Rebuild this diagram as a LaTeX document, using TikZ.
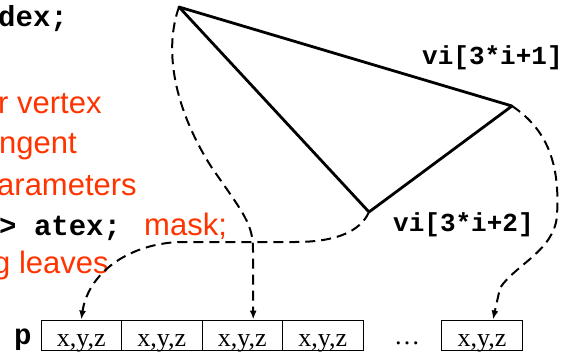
\documentclass[tikz,border=0pt]{standalone}
\usepackage{fontspec}
\setmainfont{Liberation Serif}
\setsansfont{Liberation Sans}
\setmonofont{Liberation Mono}
\usepackage{xcolor}
\usepackage{tikz}
\usetikzlibrary{calc,arrows.meta,positioning}
\definecolor{redc}{HTML}{FF3300}
\tikzset{
  ar/.style={-{Latex[length=9pt,width=7pt]},line width=2pt,dash pattern=on 10pt off 6pt},
  edg/.style={line width=2.8pt,line join=round},
  cell/.style={draw,line width=0.9pt,minimum width=80.5pt,minimum height=30pt,inner sep=0pt,text height=23pt,text depth=0pt,font=\fontsize{26}{26}\selectfont},
  codet/.style={anchor=base west,inner sep=0pt,font=\fontsize{29}{29}\selectfont\ttfamily\bfseries},
  lbl/.style={anchor=base west,inner sep=0pt,font=\fontsize{26}{26}\selectfont\ttfamily\bfseries},
  redt/.style={anchor=base west,inner sep=0pt,text=redc,font=\fontsize{31}{31}\selectfont\sffamily}
}
\begin{document}
\begin{tikzpicture}[x=1pt,y=-1pt]
\useasboundingbox (0,0) rectangle (562,353);
\node[codet] (l0) at (-2,27) {dex;};
\node[redt] (l1) at (-2,113) {r vertex};
\node[redt] (l2) at (-1,153) {ngent};
\node[redt] (l3) at (-3,195) {arameters};
\node[codet] (l4) at (-1,235) {> atex;};
\node[redt] (l4m) at (144,235) {mask;};
\node[redt] (l5) at (-7,273) {g leaves};
\coordinate (ta) at (179,7);
\coordinate (tb) at (512,106);
\coordinate (tc) at (369,212);
\draw[edg] (ta)--(tb)--(tc)--cycle;
\node[lbl] (vi1) at (422,65) {vi[3*i+1]};
\node[lbl] (vi2) at (393,231) {vi[3*i+2]};
\foreach \i in {1,...,4}{\node[cell] (c\i) at ({41+80.5*(\i-0.5)},335) {x,y,z};}
\node[cell] (c5) at (482,335) {x,y,z};
\node[anchor=base,inner sep=0pt,font=\fontsize{26}{26}\selectfont] (dots) at (407,344) {\dots};
\node[codet] (pl) at (14,344) {p};
\draw[ar] (ta) .. controls (162,55) and (178,115) .. (212,168) .. controls (245,215) and (253,225) .. (253,250) -- ([xshift=11pt]c3.north);
\draw[ar] (tc) .. controls (360,232) and (335,242) .. (295,242) -- (178,242) .. controls (125,245) and (88,275) .. (c1.north);
\draw[ar] (tb) .. controls (548,130) and (560,165) .. (557,215) .. controls (555,250) and (515,265) .. (500,288) -- ([xshift=11pt]c5.north);
\end{tikzpicture}
\end{document}
